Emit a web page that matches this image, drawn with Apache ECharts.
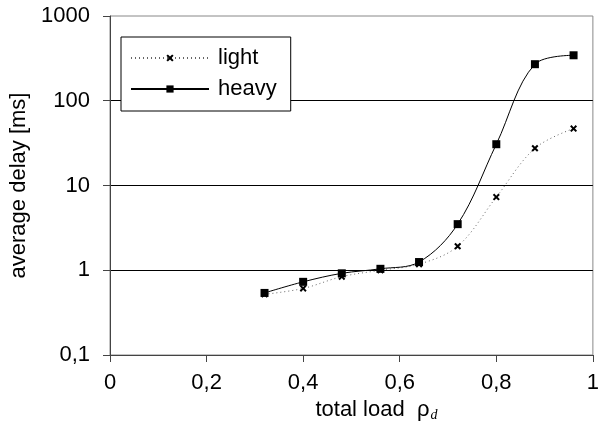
<!DOCTYPE html>
<html>
<head>
<meta charset="utf-8">
<script src="https://cdn.jsdelivr.net/npm/echarts@6/dist/echarts.min.js"></script>
<style>
html,body{margin:0;padding:0;background:#fff;}
#chart{width:602px;height:430px;}
</style>
</head>
<body>
<div id="chart"></div>
<script>
var loads = [0.32, 0.40, 0.48, 0.56, 0.64, 0.72, 0.80, 0.88, 0.96];
var lightDelay = [0.52, 0.61, 0.84, 1.0, 1.18, 1.92, 7.3, 27.5, 47];
var heavyDelay = [0.54, 0.73, 0.92, 1.04, 1.25, 3.5, 30.7, 270, 344];
var seriesNames = ['light', 'heavy'];

function pairs(xs, ys) { return xs.map(function (x, i) { return [x, ys[i]]; }); }
function comma(v) { return String(v).replace('.', ','); }

var FONT = '"Liberation Sans", Arial, sans-serif';
var xMark = 'path://M0,2L2,0L5,3L8,0L10,2L7,5L10,8L8,10L5,7L2,10L0,8L3,5Z';

var chart = echarts.init(document.getElementById('chart'), null, {renderer: 'canvas'});
chart.setOption({
  backgroundColor: '#fff',
  animation: false,
  grid: {left: 110, right: 5, top: 16, bottom: 75, show: true, borderColor: '#888', borderWidth: 1, backgroundColor: 'transparent'},
  legend: {
    orient: 'vertical', left: 121, top: 37,
    padding: [10, 14, 11, 9], itemGap: 9,
    itemWidth: 78, itemHeight: 9,
    borderColor: '#000', borderWidth: 1, backgroundColor: '#fff',
    textStyle: {fontFamily: FONT, fontSize: 22, color: '#000', padding: [0, 0, 0, 4]},
    data: seriesNames
  },
  xAxis: {
    type: 'value', min: 0, max: 1, interval: 0.2,
    axisLine: {show: true, onZero: false, lineStyle: {color: '#444', width: 1}},
    axisTick: {show: true, length: 7, lineStyle: {color: '#444'}},
    axisLabel: {fontFamily: FONT, fontSize: 22, color: '#000', margin: 17, formatter: function (v) { return comma(v); }},
    splitLine: {show: false},
    name: 'total load  {rho|ρ}{sub|d}',
    nameLocation: 'middle', nameGap: 33,
    nameTextStyle: {
      fontFamily: FONT, fontSize: 22, color: '#000', padding: [0, 0, 0, 50],
      rich: {
        rho: {fontFamily: FONT, fontSize: 22, color: '#000'},
        sub: {fontFamily: '"Liberation Serif", serif', fontStyle: 'italic', fontSize: 14, color: '#000', verticalAlign: 'bottom', padding: [10, 0, 0, 1]}
      }
    }
  },
  yAxis: {
    type: 'log', logBase: 10, min: 0.1, max: 1000,
    axisLine: {show: true, lineStyle: {color: '#444', width: 1}},
    axisTick: {show: true, length: 7, lineStyle: {color: '#444'}},
    minorTick: {show: false},
    axisLabel: {fontFamily: FONT, fontSize: 22, color: '#000', margin: 20, formatter: function (v) { return comma(v); }},
    splitLine: {show: true, showMinLine: false, showMaxLine: false, lineStyle: {color: '#000', width: 1}},
    name: 'average delay [ms]',
    nameLocation: 'middle', nameGap: 75, nameRotate: 90,
    nameTextStyle: {fontFamily: FONT, fontSize: 22, color: '#000'}
  },
  series: [
    {
      name: seriesNames[0], type: 'line', smooth: 0.35,
      data: pairs(loads, lightDelay),
      symbol: xMark, symbolSize: 7,
      itemStyle: {color: '#000'},
      lineStyle: {color: '#666', width: 1, type: [1, 3]},
      z: 2
    },
    {
      name: seriesNames[1], type: 'line', smooth: 0.35,
      data: pairs(loads, heavyDelay),
      symbol: 'rect', symbolSize: 8,
      itemStyle: {color: '#000'},
      lineStyle: {color: '#000', width: 1, type: 'solid'},
      z: 3
    }
  ]
});
</script>
</body>
</html>
